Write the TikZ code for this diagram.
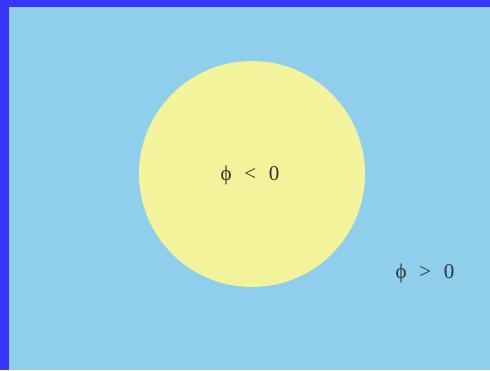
\documentclass[tikz,border=0pt]{standalone}
\usepackage{fontspec}
\setmainfont{Liberation Serif}
\usetikzlibrary{positioning}
\definecolor{FrameBlue}{HTML}{3636FF}
\definecolor{SkyBlue}{HTML}{8FCFEB}
\definecolor{SunYellow}{HTML}{F3F39B}
\definecolor{InkGray}{HTML}{333333}

\begin{document}
\begin{tikzpicture}[
    x=1pt, y=-1pt,
    region/.style={circle, fill=SunYellow, minimum size=226pt, inner sep=0pt},
    label/.style={font=\fontsize{21}{25}\selectfont, text=InkGray}
]
\useasboundingbox (0,0) rectangle (490,370);
\fill[FrameBlue] (0,0) rectangle (490,370);
\fill[SkyBlue] (9,7) rectangle (490,370);

\node[region] (inside) at (252,174) {};
\node[label] (neg) at (250,175) {ϕ\hspace{0.6em}<\hspace{0.6em}0};
\node[label] (pos) at (425,273) {ϕ\hspace{0.6em}>\hspace{0.6em}0};

\end{tikzpicture}
\end{document}
